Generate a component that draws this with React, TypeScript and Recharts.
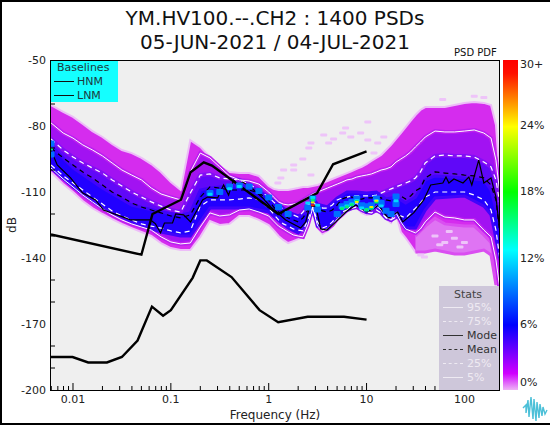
import { Area, CartesianGrid, ComposedChart, Line, Scatter, XAxis, YAxis } from 'recharts';

const FREQS = [
  0.00596, 0.00794, 0.01, 0.0126, 0.0158, 0.02, 0.0251, 0.0316, 0.0398, 0.0501, 0.0631, 0.0794, 0.1, 0.126, 0.158, 0.2, 0.251, 0.316, 0.398, 0.501, 0.631, 0.794,
  1, 1.12, 1.26, 1.41, 1.58, 1.78, 2, 2.24, 2.51, 2.82, 3.16, 3.55, 3.98, 4.47, 5.01, 5.62, 6.31, 7.08, 7.94, 8.91, 10, 11.2, 12.6, 14.1, 15.8, 17.8, 20, 22.4, 25.1, 28.2, 31.6, 35.5, 39.8,
  50.1, 63.1, 79.4, 100, 126, 158, 187, 210, 231,
];

const P95 = [
  -78.6, -83.2, -85.5, -88.6, -90.9, -93.6, -96.8, -100, -102.3, -104.5, -108.2, -110.9, -112.3, -113.6, -100.9, -92.3, -94.5, -98.6, -102.7, -104.5, -105, -106.4,
  -110, -112.3, -114.5, -115.5, -115.9, -115.5, -115, -113.6, -112.3, -110.9, -110, -109.1, -108.2, -107.3, -106.4, -105.5, -104.5, -104.1, -103.2, -102.7, -102.3, -101.8, -100.9, -100, -99.5, -98.6, -96.4, -95, -93.6, -91.8, -89.5, -87.3, -85,
  -82.3, -82.7, -82.7, -82.3, -81.8, -83.2, -85.5, -95.5, -111.4,
];
const P75 = [
  -85.9, -90.9, -94.1, -96.8, -99.1, -101.4, -104.5, -107.3, -110, -112.3, -114.5, -116.4, -118.2, -119.1, -110.5, -102.3, -101.8, -103.6, -104.1, -104.5, -106.4, -109.1,
  -112.3, -114.5, -116.4, -117.7, -119.1, -120.4, -121.4, -119.1, -115.9, -115, -115.9, -117.3, -117.3, -115.9, -113.6, -112.7, -112.3, -111.8, -111.8, -111.8, -111.8, -111.8, -111.4, -110.5, -109.5, -108.6, -107.7, -106.8, -105.9, -105, -103.6, -100.9, -96.8,
  -93.6, -93.2, -93.6, -93.6, -94.1, -96.4, -98.6, -104.5, -115.9,
];
const MEAN = [
  -90, -94.5, -97.7, -100.9, -103.6, -106.8, -110, -112.3, -115, -116.8, -118.2, -119.5, -120.9, -121.8, -120.4, -112.3, -107.7, -108.2, -109.1, -109.1, -109.1, -110.5,
  -113.6, -116.8, -119.1, -120.4, -121.8, -122.7, -123.6, -121.8, -118.2, -116.4, -117.3, -118.6, -119.1, -118.2, -115.9, -113.2, -112.3, -112.3, -113.2, -113.2, -112.7, -112.7, -112.3, -112.7, -113.6, -114.1, -113.6, -111.8, -113.2, -111.8, -109.5, -108.2, -103.6,
  -100.9, -101.4, -101.8, -102.3, -102.7, -103.6, -106.8, -113.6, -129.5,
];
const P25 = [
  -97.7, -102.7, -105.9, -109.1, -112.3, -115.5, -118.6, -120.9, -122.7, -124.5, -125.5, -126.4, -127.7, -128.6, -127.7, -116.4, -113.6, -113.6, -113.6, -113.2, -112.7, -113.6,
  -117.3, -120, -122.7, -124.5, -125.5, -126.8, -127.3, -127.7, -122.7, -116.8, -123.6, -126.4, -125.5, -123.6, -120.9, -119.1, -118.2, -117.3, -116.8, -118.2, -119.1, -119.5, -118.2, -119.5, -121.8, -122.7, -121.4, -120.9, -121.8, -119.5, -117.3, -115, -112.3,
  -110, -110, -110, -110, -111.4, -113.6, -118.2, -127.3, -140.9,
];
const P5 = [
  -99.1, -104.1, -107.7, -111.4, -114.5, -117.7, -120.4, -122.7, -124.5, -125.9, -127.3, -130.4, -132.7, -133.6, -133.2, -125.9, -119.5, -120.9, -120.4, -118.2, -117.7, -119.1,
  -120.9, -123.2, -125.5, -126.8, -128.2, -129.5, -130, -130.4, -125, -117.3, -125.5, -127.7, -126.8, -125, -122.3, -120.4, -118.2, -115.9, -115, -117.7, -119.1, -118.2, -116.4, -118.2, -121.4, -122.7, -119.5, -123.6, -126.8, -127.7, -128.6, -126.8, -123.6,
  -119.1, -121.4, -121.8, -122.7, -122.7, -127.3, -130.4, -140.9, -154.5,
];
const ENV_TOP = [
  -70.5, -73.6, -75.9, -79.1, -82.3, -85, -88.2, -90.9, -92.3, -94.5, -97.3, -100.9, -105.5, -109.1, -86.4, -89.5, -94.1, -98.6, -100.9, -101.4, -101.4, -102.7,
  -107.3, -108.6, -109.1, -109.1, -109.1, -108.6, -108.2, -107.7, -107.7, -107.3, -106.8, -105.9, -105, -104.1, -103.2, -102.3, -101.4, -100.5, -99.5, -98.6, -97.3, -95.9, -94.5, -93.2, -90.9, -88.6, -85.9, -83.2, -80.5, -77.7, -75, -72.7, -71.4,
  -71.4, -71.4, -70.5, -69.5, -69.1, -69.5, -70.5, -79.5, -104.5,
];
const ENV_BOT = [
  -100.9, -106.4, -110, -114.1, -117.3, -120, -122.3, -124.5, -126.4, -128.2, -130, -133.2, -135.5, -136.4, -136.4, -130.4, -123.2, -125, -124.5, -120.9, -120.9, -122.7,
  -125, -127.3, -130, -131.8, -133.2, -132.3, -131.4, -130.4, -125.5, -118.2, -126.4, -129.1, -127.7, -125.5, -122.3, -119.5, -118.6, -117.7, -117.3, -119.5, -120.4, -120, -117.7, -119.1, -122.3, -124.1, -120, -128.2, -130.9, -134.1, -137.3, -138.2, -137.3,
  -136.4, -137.3, -138.2, -138.2, -137.3, -136.4, -138.6, -152.3, -159,
];

// paler tail of the distribution under the 5% line at high frequency
const PALE_FREQS = [31.6, 39.8, 50.1, 63.1, 79.4, 100, 126, 158, 187, 210];
const PALE_TOP = [-130, -125.5, -122, -124.5, -125, -125.5, -125.5, -129.5, -133, -145];
const PALE_BOT = [-137.3, -137.3, -136.4, -137.3, -138.2, -138.2, -137.3, -136.4, -138.6, -152.3];

const CORE_FREQS = [0.00596, 0.01, 0.02, 0.0398, 0.0794, 0.126, 0.158, 0.2, 0.251, 0.398, 0.631, 1, 1.58, 2, 2.51, 2.82, 3.16, 3.98, 5.01, 6.31, 7.94, 10, 12.6, 15.8, 20, 25.1, 31.6, 39.8, 50.1, 100, 158, 187, 231];
const CORE_TOP = [-89, -99, -108.2, -115.9, -119.1, -120.4, -119.5, -109.1, -108.2, -107.3, -107.3, -112.3, -119.1, -120.9, -119.1, -112.7, -115.5, -116.8, -112.7, -110, -110, -110.5, -110, -113.2, -112.3, -115, -112.3, -104.5, -102.7, -103.6, -104.5, -109.1, -125];
const CORE_BOT = [-99.1, -107.7, -117.3, -123.6, -128.2, -130, -130, -123.6, -117.3, -117.3, -117.3, -119.1, -126.4, -128.6, -123.6, -117.3, -125.5, -126.8, -121.8, -118.2, -115, -119.1, -116.4, -121.4, -119.5, -126.4, -126.4, -118.2, -112.7, -111.8, -116.4, -120.4, -140];

const MODE_FREQS = [
  0.00596, 0.0069, 0.00945, 0.0125, 0.017, 0.0205, 0.0327, 0.0388, 0.062, 0.0697, 0.0785, 0.086, 0.104, 0.112, 0.135, 0.159, 0.211, 0.237, 0.301, 0.346, 0.389, 0.438, 0.481, 0.542, 0.654, 0.868, 1.05, 1.49,
  2.12, 2.39, 2.63, 3.03, 3.4, 3.92, 4.85, 6.13, 7.74, 8.72, 10, 11.6, 13.3, 15.3, 16.9, 20.8, 23.5, 30.3, 38.4, 45.2, 60.2, 64.8, 69.4, 78.1, 96.7, 111, 119, 140, 158, 187, 210, 225,
];
const MODE = [
  -90.9, -97.7, -103.6, -110.4, -113.6, -118.2, -121.4, -122.7, -122.7, -124.5, -128.6, -124.1, -124.1, -120, -120.4, -123.6, -113.6, -112.3, -112.7, -106.8, -111.4, -104.5, -106.8, -105.5, -107.7, -112.7, -116.8, -122.7,
  -126.4, -123.6, -116.4, -116.4, -126.8, -127.3, -123.6, -119.1, -115.9, -117.3, -119.1, -117.7, -115.9, -120, -121.8, -119.1, -123.6, -119.5, -113.6, -106.8, -105.9, -103.2, -105.9, -104.1, -105.9, -103.2, -106.8, -95.5, -105.9, -103.6, -112.3, -124.1,
];

const HNM_FREQS = [0.00596, 0.05, 0.0649, 0.127, 0.159, 0.217, 0.263, 1.25, 3.125, 4.55, 10];
const HNM = [-129.3, -138.5, -120, -113.5, -101, -96.5, -98, -120, -110.5, -97.4, -91.5];
const LNM_FREQS = [0.00596, 0.0099, 0.0143, 0.0222, 0.0316, 0.0457, 0.0641, 0.0833, 0.1, 0.167, 0.2, 0.233, 0.417, 0.806, 1.25, 2.5, 5.88, 10];
const LNM = [-185, -185, -187.5, -187.5, -185, -177.5, -162.1, -166.25, -163.75, -149, -141.1, -141.1, -148.65, -163.7, -169.2, -166.7, -166.7, -168];

const SPECKLES = [
  [10.3, -78.2], [6.1, -80.9], [8.7, -83.2], [5.7, -83.2], [6.9, -85], [3.65, -84.1], [4.6, -85.9], [4.1, -87.7], [2.7, -87.7], [2.57, -90], [2.23, -95], [1.8, -97.7], [1.42, -100], [1.8, -100],
  [2.7, -102.3], [1.33, -103.6], [1.24, -105.9], [10.3, -86.4], [13, -87.7], [15, -85], [11.9, -92.3], [35.8, -138.6], [60, -68], [126, -66.5], [158, -67], [39, -139.5],
  [50, -130], [63, -133], [79, -131], [100, -133], [70, -128], [90, -135], [56, -134],
];
const LIGHT_CELLS = [
  [0.00596, -88], [0.00596, -93], [0.251, -110.5], [0.316, -110], [0.398, -107.5], [0.501, -107], [0.631, -107.5], [0.794, -109.5], [1, -112.5], [1.26, -116.8], [1.58, -120],
  [2.51, -117], [2.82, -113], [3.16, -118], [5.01, -120], [5.62, -116.5], [6.31, -115.5], [7.08, -114.5], [7.94, -113], [8.91, -116], [10, -116.5], [11.2, -116], [12.6, -113], [14.1, -115], [15.8, -118.5], [17.8, -120], [20, -115.5], [20, -112],
];
const CYAN_CELLS = [
  [0.251, -111], [0.501, -107.5], [0.398, -108.5], [2.51, -115], [2.82, -112.5], [3.16, -116], [5.62, -117.3], [6.31, -116.4], [7.08, -115.5], [7.94, -114], [8.91, -117.3], [10, -118.2], [11.2, -117.3], [12.6, -114], [14.1, -116.4], [20, -114],
];
const GREEN_CELLS = [[0.00596, -90.5], [2.82, -113.8], [5.62, -117.6], [6.31, -116.8], [7.08, -115.8], [7.94, -114.3], [10, -118], [11.2, -117.3], [12.6, -114.5]];
const YELLOW_CELLS = [[2.82, -114.8], [7.94, -114.5], [11.2, -116.8], [12.6, -114]];
const RED_CELLS = [[2.82, -116]];

const X_MAJOR = [0.01, 0.1, 1, 10, 100];
const X_MINOR = [
  0.006, 0.007, 0.008, 0.009, 0.02, 0.03, 0.04, 0.05, 0.06, 0.07, 0.08, 0.09, 0.2, 0.3, 0.4, 0.5, 0.6, 0.7, 0.8, 0.9, 2, 3, 4, 5, 6, 7, 8, 9, 20, 30, 40, 50, 60, 70, 80, 90, 200,
];
const Y_LABELS = [-50, -80, -110, -140, -170, -200];
const Y_MINOR = [-60, -70, -90, -100, -120, -130, -150, -160, -180, -190];
const COLORBAR_LABELS = ['30+', '24%', '18%', '12%', '6%', '0%'];
const COLORBAR_LABEL_Y = [65, 126, 192, 259, 325, 383];
const STATS_LABELS = ['95%', '75%', 'Mode', 'Mean', '25%', '5%'];

const FONT = '"DejaVu Sans", sans-serif';
const TICK_COLOR = '#222';

const rows = FREQS.map((f, i) => ({
  f,
  env: [ENV_BOT[i], ENV_TOP[i]],
  outer: [P5[i], P95[i]],
  inner: [P25[i], P75[i]],
  p95: P95[i],
  p75: P75[i],
  mean: MEAN[i],
  p25: P25[i],
  p5: P5[i],
}));
const paleRows = PALE_FREQS.map((f, i) => ({ f, pale: [PALE_BOT[i], PALE_TOP[i]] }));
const coreRows = CORE_FREQS.map((f, i) => ({ f, core: [CORE_BOT[i], CORE_TOP[i]] }));
const modeRows = MODE_FREQS.map((f, i) => ({ f, db: MODE[i] }));
const hnmRows = HNM_FREQS.map((f, i) => ({ f, db: HNM[i] }));
const lnmRows = LNM_FREQS.map((f, i) => ({ f, db: LNM[i] }));
const toCells = (list: number[][]) => list.map(([f, db]) => ({ f, db }));

const cellShape = (fill: string, w: number, h: number) => (props: any) => (
  <rect x={props.cx - w / 2} y={props.cy - h / 2} width={w} height={h} rx={1} fill={fill} />
);

function XTick({ x, y, payload }: any) {
  const major = X_MAJOR.includes(payload.value);
  return (
    <g>
      <line x1={x} x2={x} y1={y} y2={y - (major ? 7 : 4)} stroke="#000" strokeWidth={1} />
      {major && (
        <text x={x} y={y + 13} textAnchor="middle" fontSize={11} fontFamily={FONT} fill={TICK_COLOR}>
          {payload.value}
        </text>
      )}
    </g>
  );
}

function YTick({ x, y, payload }: any) {
  const major = Y_LABELS.includes(payload.value);
  if (!major) return <line x1={x} x2={x + 4} y1={y} y2={y} stroke="#000" strokeWidth={1} />;
  return (
    <text x={x - 5} y={y + 4} textAnchor="end" fontSize={11} fontFamily={FONT} fill={TICK_COLOR}>
      {payload.value}
    </text>
  );
}

function Baselines() {
  return (
    <div style={{ position: 'absolute', left: 51, top: 61, width: 67, height: 41, background: '#14ffff', fontSize: 11, lineHeight: '13px', color: '#1d3a40' }}>
      <div style={{ position: 'absolute', left: 6, top: 0 }}>Baselines</div>
      {['HNM', 'LNM'].map((name, i) => (
        <div key={name}>
          <div style={{ position: 'absolute', left: 3, top: 20 + i * 14, width: 20, height: 1, background: '#111' }} />
          <div style={{ position: 'absolute', left: 26, top: 14 + i * 14 }}>{name}</div>
        </div>
      ))}
    </div>
  );
}

function Stats() {
  return (
    <div style={{ position: 'absolute', left: 439, top: 286, width: 60, height: 104, background: '#cec7da', fontSize: 11, lineHeight: '13px' }}>
      <div style={{ position: 'absolute', left: 0, width: 58, textAlign: 'center', top: 2, color: '#444' }}>Stats</div>
      {STATS_LABELS.map((name, i) => {
        const dark = name === 'Mode' || name === 'Mean';
        const dashed = name === '75%' || name === 'Mean' || name === '25%';
        const color = dark ? '#333' : '#eeeaf2';
        return (
          <div key={name}>
            <div style={{ position: 'absolute', left: 4, top: 21 + i * 14, width: 20, height: 0, borderTop: `1px ${dashed ? 'dashed' : 'solid'} ${color}` }} />
            <div style={{ position: 'absolute', left: 28, top: 15 + i * 14, color }}>{name}</div>
          </div>
        );
      })}
    </div>
  );
}

function Colorbar() {
  const gradient = 'linear-gradient(to bottom, #ff0000 0%, #ff1000 4%, #ffff00 20.2%, #00ff00 40%, #00ffff 57.6%, #0000ff 80.3%, #d000ff 95%, #eeb4f6 100%)';
  return (
    <>
      <div style={{ position: 'absolute', left: 503, top: 60, width: 15, height: 330, background: gradient }} />
      {COLORBAR_LABELS.map((label, i) => (
        <div key={label} style={{ position: 'absolute', left: 520, top: COLORBAR_LABEL_Y[i] - 7, fontSize: 11, color: TICK_COLOR }}>
          {label}
        </div>
      ))}
    </>
  );
}

// little waveform mark in the bottom corner
function Logo() {
  return (
    <svg style={{ position: 'absolute', left: 522, top: 396, width: 26, height: 26 }} viewBox="0 0 26 26">
      <path
        d="M1 12 L4 9 L4 17 L6 4 L7 21 L9 1 L11 23 L12 3 L14 25 L15 6 L17 22 L18 8 L20 20 L21 11 L23 18 L25 14"
        fill="none"
        stroke="#4cc0d8"
        strokeWidth={1.4}
      />
    </svg>
  );
}

export default function App() {
  return (
    <div style={{ position: 'relative', width: 550, height: 425, background: '#fff', fontFamily: FONT, overflow: 'hidden' }}>
      <style>{'body{margin:0}'}</style>
      <ComposedChart width={550} height={425} data={rows} margin={{ top: 60, right: 50, left: 0, bottom: 0 }} style={{ position: 'absolute', left: 0, top: 0 }}>
        <CartesianGrid horizontal={false} vertical={false} fill="#efefef" />
        <XAxis
          dataKey="f"
          type="number"
          scale="log"
          domain={[0.00596, 231]}
          allowDataOverflow
          ticks={[...X_MAJOR, ...X_MINOR]}
          interval={0}
          height={35}
          axisLine={false}
          tickLine={false}
          tickSize={0}
          tickMargin={0}
          tick={XTick}
        />
        <YAxis
          type="number"
          domain={[-200, -50]}
          allowDataOverflow
          ticks={[...Y_LABELS, ...Y_MINOR]}
          interval={0}
          width={51}
          axisLine={false}
          tickLine={false}
          tickSize={0}
          tickMargin={0}
          tick={YTick}
        />

        <Area dataKey="env" type="linear" stroke="#edbdf8" strokeWidth={2} fill="#d52cee" fillOpacity={1} isAnimationActive={false} />
        <Area data={paleRows} dataKey="pale" type="linear" stroke="#da4ef1" strokeWidth={3} fill="#df74f3" fillOpacity={1} isAnimationActive={false} />
        <Area dataKey="outer" type="linear" stroke="#bb1ff0" strokeWidth={4} fill="#a212f2" fillOpacity={1} isAnimationActive={false} />
        <Area dataKey="inner" type="linear" stroke="#820ef5" strokeWidth={4} fill="#6008f8" fillOpacity={1} isAnimationActive={false} />
        <Area data={coreRows} dataKey="core" type="linear" stroke="#4004fb" strokeWidth={3} fill="#2200ff" fillOpacity={1} isAnimationActive={false} />

        <Scatter data={toCells(SPECKLES)} dataKey="db" shape={cellShape('#eec4f9', 7, 3)} isAnimationActive={false} />
        <Scatter data={toCells(LIGHT_CELLS)} dataKey="db" shape={cellShape('#0070ff', 7, 6)} isAnimationActive={false} />
        <Scatter data={toCells(CYAN_CELLS)} dataKey="db" shape={cellShape('#00d8ff', 5, 3)} isAnimationActive={false} />
        <Scatter data={toCells(GREEN_CELLS)} dataKey="db" shape={cellShape('#00f070', 4, 3)} isAnimationActive={false} />
        <Scatter data={toCells(YELLOW_CELLS)} dataKey="db" shape={cellShape('#f4ee00', 4, 2)} isAnimationActive={false} />
        <Scatter data={toCells(RED_CELLS)} dataKey="db" shape={cellShape('#f02000', 4, 2)} isAnimationActive={false} />

        <Line dataKey="p95" stroke="#fff" strokeWidth={1} dot={false} isAnimationActive={false} />
        <Line dataKey="p75" stroke="#fff" strokeWidth={1.2} strokeDasharray="5 4" dot={false} isAnimationActive={false} />
        <Line dataKey="mean" stroke="#000" strokeWidth={1.2} strokeDasharray="5 4" dot={false} isAnimationActive={false} />
        <Line dataKey="p25" stroke="#fff" strokeWidth={1.2} strokeDasharray="5 4" dot={false} isAnimationActive={false} />
        <Line dataKey="p5" stroke="#fff" strokeWidth={1} dot={false} isAnimationActive={false} />
        <Line data={modeRows} dataKey="db" stroke="#000" strokeWidth={1.2} dot={false} isAnimationActive={false} />
        <Line data={hnmRows} dataKey="db" stroke="#000" strokeWidth={2.4} dot={false} isAnimationActive={false} />
        <Line data={lnmRows} dataKey="db" stroke="#000" strokeWidth={2.4} dot={false} isAnimationActive={false} />
      </ComposedChart>

      <div style={{ position: 'absolute', left: 50, top: 60, width: 448, height: 329, border: '1.5px solid #000', pointerEvents: 'none' }} />
      <Baselines />
      <Stats />
      <Colorbar />
      <Logo />

      <div style={{ position: 'absolute', left: 0, width: 550, top: 6, textAlign: 'center', fontSize: 20, lineHeight: '24px', color: '#111' }}>
        YM.HV100.--.CH2 : 1400 PSDs
        <br />
        05-JUN-2021 / 04-JUL-2021
      </div>
      <div style={{ position: 'absolute', left: 454, top: 47, fontSize: 10, color: '#111' }}>PSD PDF</div>
      <div style={{ position: 'absolute', left: 0, width: 550, top: 408, textAlign: 'center', fontSize: 12, color: TICK_COLOR }}>Frequency (Hz)</div>
      <div style={{ position: 'absolute', left: 12, top: 225, fontSize: 12, color: TICK_COLOR, transform: 'translate(-50%,-50%) rotate(-90deg)' }}>dB</div>
      <div style={{ position: 'absolute', left: 0, top: 0, width: 550, height: 425, boxSizing: 'border-box', borderLeft: '2px solid #000', borderTop: '2px solid #000', borderBottom: '2px solid #000', pointerEvents: 'none' }} />
    </div>
  );
}
